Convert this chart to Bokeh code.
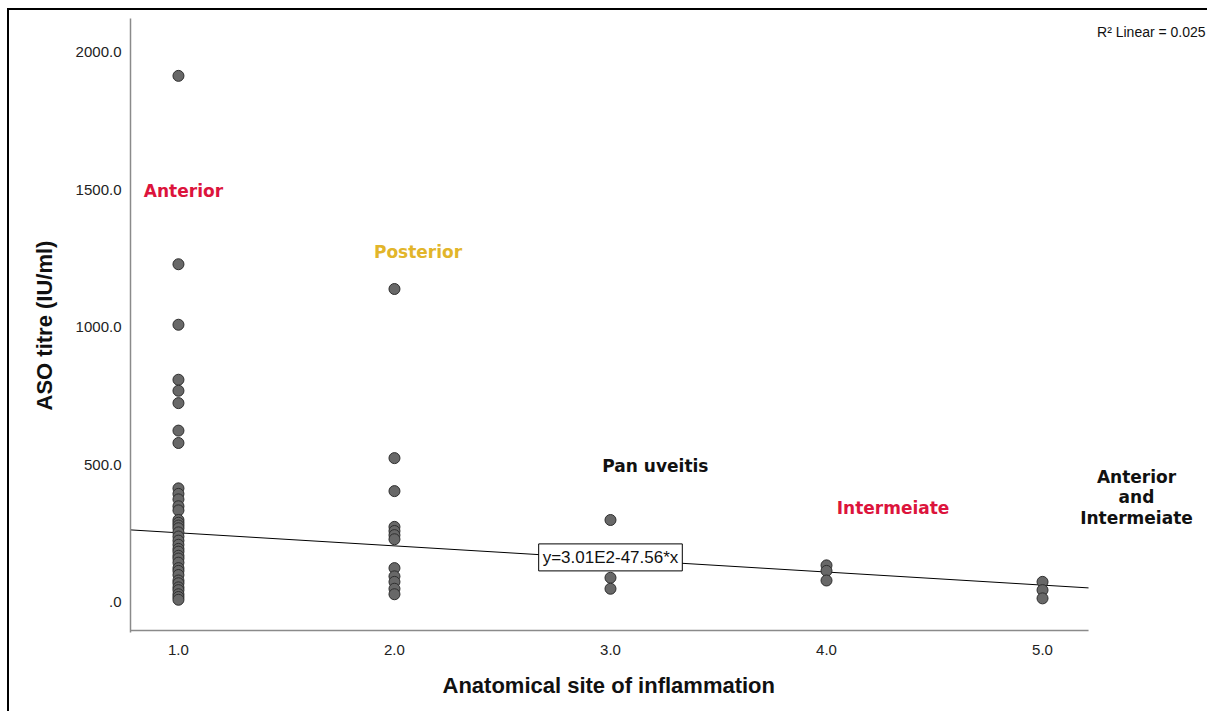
from bokeh.plotting import figure
from bokeh.models import Label, FixedTicker, Range1d, ColumnDataSource, Title
from bokeh.embed import file_html
from bokeh.resources import INLINE

# ---------------- data ----------------
site_ticks = [1, 2, 3, 4, 5]
site_tick_labels = ["1.0", "2.0", "3.0", "4.0", "5.0"]
aso_ticks = [0, 500, 1000, 1500, 2000]
aso_tick_labels = [".0", "500.0", "1000.0", "1500.0", "2000.0"]

aso_site1 = [1915, 1230, 1010, 810, 770, 725, 625, 580, 415, 395, 375, 350, 335,
             300, 290, 280, 270, 255, 240, 225, 210, 195, 185, 170, 160, 145,
             125, 115, 100, 80, 70, 55, 45, 30, 20, 10]
aso_site2 = [1140, 525, 405, 275, 260, 245, 230, 125, 95, 75, 50, 30]
aso_site3 = [300, 90, 50]
aso_site4 = [135, 115, 80]
aso_site5 = [75, 45, 15]

fit_intercept = 301.0
fit_slope = -47.56
r2_linear = 0.025
equation_text = "y=3.01E2-47.56*x"

group_names = ["Anterior", "Posterior", "Pan uveitis", "Intermeiate"]
group_colors = ["#dc143c", "#e2b52a", "#111111", "#dc143c"]
combined_lines = ["Anterior", "and", "Intermeiate"]

x_title = "Anatomical site of inflammation"
y_title = "ASO titre (IU/ml)"

# ---------------- build ----------------
xs, ys = [], []
for s, vals in zip(site_ticks, [aso_site1, aso_site2, aso_site3, aso_site4, aso_site5]):
    xs += [s] * len(vals)
    ys += vals
src = ColumnDataSource(dict(x=xs, y=ys))

x_axis_start, x_axis_end = 0.778, 5.213   # extent of the drawn axis
y_axis_pos = -101.8                       # where the x axis line sits
x_range = Range1d(x_axis_start, 5.773)
y_range = Range1d(-109.1, 2123.6)

p = figure(width=1200, height=703, x_range=x_range, y_range=y_range,
           output_backend="svg", toolbar_location=None,
           min_border_left=121, min_border_right=0,
           min_border_top=8, min_border_bottom=81)
p.styles = {"margin-left": "7px", "margin-top": "8px",
            "border-top": "2px solid black", "border-left": "2px solid black"}
p.background_fill_color = "white"
p.border_fill_color = "white"
p.outline_line_color = None
p.xgrid.grid_line_color = None
p.ygrid.grid_line_color = None

for ax in (p.xaxis[0], p.yaxis[0]):
    ax.axis_line_color = "#8a8a8a"
    ax.axis_line_width = 1.5
    ax.major_tick_line_color = None
    ax.minor_tick_line_color = None
    ax.major_label_text_font = "Liberation Sans"
    ax.major_label_text_font_size = "15px"
    ax.major_label_text_color = "#222222"
    ax.axis_label_text_font = "Liberation Sans"
    ax.axis_label_text_font_style = "bold"
    ax.axis_label_text_font_size = "22px"
    ax.axis_label_text_color = "#111111"
p.xaxis.axis_line_color = None

p.xaxis.ticker = FixedTicker(ticks=site_ticks)
p.xaxis.major_label_overrides = {t: l for t, l in zip(site_ticks, site_tick_labels)}
p.yaxis.ticker = FixedTicker(ticks=aso_ticks)
p.yaxis.major_label_overrides = {t: l for t, l in zip(aso_ticks, aso_tick_labels)}
p.yaxis.axis_label = y_title
p.xaxis.major_label_standoff = 6
p.yaxis.major_label_standoff = 3
p.yaxis.axis_label_standoff = 16

# x axis title, centred under the drawn axis (not the wider frame)
p.add_layout(Title(text=x_title, align="left", offset=312,
                   text_font="Liberation Sans", text_font_style="bold",
                   text_font_size="22px", text_color="#111111",
                   standoff=27), "below")

# x axis line limited to the plotting area
p.line([x_axis_start, x_axis_end], [y_axis_pos, y_axis_pos],
       line_color="#8a8a8a", line_width=1.5)

# regression line
fx = [x_axis_start, x_axis_end]
fy = [fit_intercept + fit_slope * v for v in fx]
p.line(fx, fy, line_color="black", line_width=1)

# points
p.scatter("x", "y", source=src, size=11, fill_color="#686868",
          line_color="#2e2e2e", line_width=1)

# group labels
label_pos = [(1.023, 1498), (2.109, 1276), (3.208, 495), (4.308, 342)]
for name, col, (lx, ly) in zip(group_names, group_colors, label_pos):
    p.add_layout(Label(x=lx, y=ly, text=name, text_color=col,
                       text_font="DejaVu Sans", text_font_style="bold",
                       text_font_size="17px", text_align="center",
                       text_baseline="middle"))
for line, ly in zip(combined_lines, [458, 382, 309]):
    p.add_layout(Label(x=5.435, y=ly, text=line, text_color="#111111",
                       text_font="DejaVu Sans", text_font_style="bold",
                       text_font_size="17px", text_align="center",
                       text_baseline="middle"))

# equation box
p.add_layout(Label(x=3.0, y=164, text=equation_text, text_color="#111111",
                   text_font="Liberation Sans", text_font_size="17px",
                   text_align="center", text_baseline="middle",
                   background_fill_color="white", border_line_color="black",
                   border_line_width=1, padding=4))

# R^2 text
p.add_layout(Label(x=5.755, y=2073, text="R\u00b2 Linear = %.3f" % r2_linear,
                   text_color="#111111", text_font="Liberation Sans",
                   text_font_size="14px", text_align="right",
                   text_baseline="middle"))

open("out.html", "w").write(file_html(p, INLINE))
